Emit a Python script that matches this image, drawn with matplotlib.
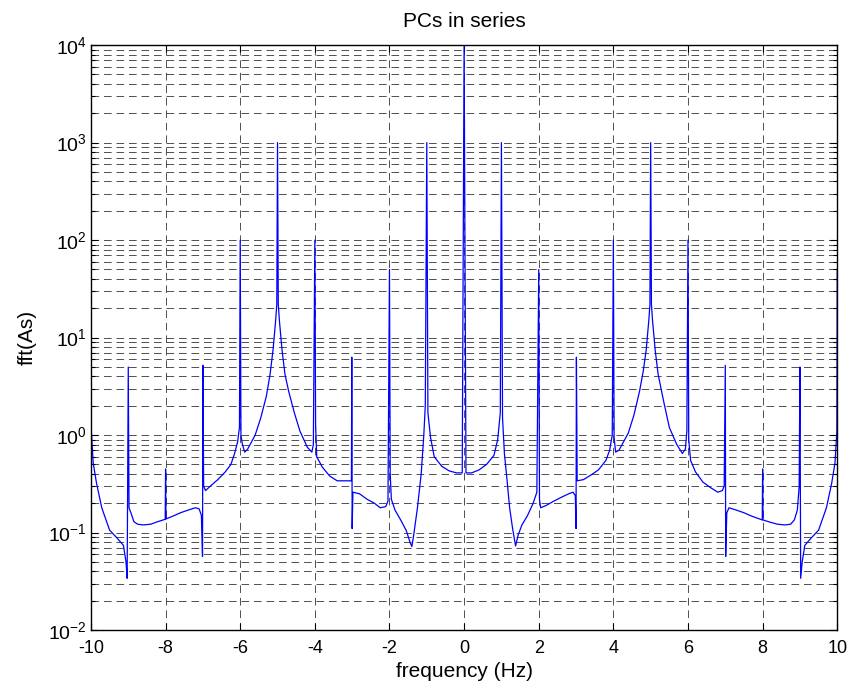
import matplotlib
matplotlib.use('Agg')
import matplotlib.pyplot as plt
from matplotlib.ticker import LogLocator, FixedLocator, NullLocator

# Espectro (frequência em Hz, amplitude)
freq = [-10.0, -9.99, -9.94, -9.85, -9.71, -9.5, -9.3, -9.13, -9.06, -9.03, -9.0,
        -8.98, -8.93, -8.85, -8.75, -8.6, -8.4, -8.2, -8.01, -8.0, -7.99,
        -7.8, -7.6, -7.4, -7.2, -7.1, -7.04, -7.01, -7.0, -6.98, -6.93,
        -6.8, -6.6, -6.4, -6.25, -6.15, -6.07, -6.02, -6.0, -5.98, -5.94,
        -5.88, -5.8, -5.6, -5.45, -5.3, -5.2, -5.12, -5.05, -5.02, -5.0,
        -4.98, -4.95, -4.88, -4.8, -4.7, -4.55, -4.4, -4.2, -4.08, -4.04,
        -4.0, -3.98, -3.95, -3.8, -3.6, -3.4, -3.1, -3.02, -3.01, -3.0,
        -2.98, -2.8, -2.6, -2.4, -2.25, -2.1, -2.04, -2.0, -1.98, -1.95,
        -1.85, -1.7, -1.55, -1.45, -1.4, -1.35, -1.25, -1.15, -1.08, -1.04,
        -1.0, -0.97, -0.9, -0.8, -0.6, -0.4, -0.2, -0.05, 0.0, 0.05,
        0.2, 0.4, 0.6, 0.8, 0.9, 0.97, 1.0, 1.03, 1.08, 1.15,
        1.22, 1.3, 1.38, 1.45, 1.55, 1.7, 1.85, 1.95, 2.0, 2.02,
        2.05, 2.2, 2.4, 2.6, 2.8, 2.92, 2.98, 3.0, 3.01, 3.03,
        3.2, 3.4, 3.6, 3.8, 3.9, 3.97, 4.0, 4.02, 4.06, 4.15,
        4.4, 4.55, 4.7, 4.8, 4.88, 4.95, 4.98, 5.0, 5.02, 5.05,
        5.12, 5.2, 5.35, 5.5, 5.7, 5.85, 5.93, 5.97, 6.0, 6.02,
        6.07, 6.2, 6.4, 6.6, 6.8, 6.92, 6.97, 7.0, 7.01, 7.04,
        7.1, 7.3, 7.5, 7.7, 7.99, 8.0, 8.01, 8.2, 8.4, 8.6,
        8.75, 8.85, 8.93, 8.98, 9.0, 9.02, 9.06, 9.13, 9.3, 9.5,
        9.71, 9.85, 9.94, 9.99, 10.0]
amp = [50, 1.1, 0.52, 0.32, 0.18, 0.106, 0.088, 0.074, 0.05, 0.034, 5.0,
       0.18, 0.16, 0.13, 0.122, 0.12, 0.122, 0.13, 0.137, 0.45, 0.138,
       0.148, 0.16, 0.17, 0.18, 0.175, 0.15, 0.057, 5.2, 0.3, 0.27,
       0.3, 0.35, 0.42, 0.5, 0.65, 0.85, 1.2, 100, 1.0, 0.8,
       0.67, 0.72, 1.0, 1.5, 2.5, 4.2, 7.5, 15, 22, 1000,
       22, 15, 7.5, 4.2, 2.8, 1.7, 1.1, 0.75, 0.67, 0.8,
       100, 1.3, 0.6, 0.47, 0.38, 0.34, 0.34, 0.34, 6.3, 0.11,
       0.26, 0.25, 0.22, 0.2, 0.18, 0.185, 0.21, 50, 0.4, 0.22,
       0.17, 0.135, 0.105, 0.08, 0.072, 0.095, 0.18, 0.4, 1.0, 2.0,
       1000, 1.7, 0.95, 0.6, 0.48, 0.43, 0.41, 0.41, 10000, 0.41,
       0.41, 0.44, 0.5, 0.62, 0.9, 1.7, 1000, 1.5, 0.65, 0.35,
       0.18, 0.11, 0.073, 0.095, 0.12, 0.15, 0.2, 0.26, 50, 0.22,
       0.18, 0.19, 0.21, 0.23, 0.25, 0.26, 0.24, 0.11, 6.3, 0.34,
       0.35, 0.39, 0.44, 0.55, 0.7, 1.0, 100, 0.95, 0.67, 0.7,
       1.05, 1.6, 2.8, 4.5, 7.5, 15, 22, 1000, 22, 15,
       7.5, 4.2, 2.2, 1.2, 0.8, 0.65, 0.72, 1.1, 100, 0.9,
       0.55, 0.42, 0.33, 0.29, 0.26, 0.27, 0.3, 5.2, 0.057, 0.16,
       0.18, 0.17, 0.16, 0.148, 0.135, 0.45, 0.135, 0.128, 0.122, 0.12,
       0.122, 0.135, 0.17, 0.3, 5.0, 0.034, 0.05, 0.074, 0.088, 0.106,
       0.18, 0.32, 0.52, 1.1, 50]

xticks = [-10, -8, -6, -4, -2, 0, 2, 4, 6, 8, 10]

plt.rcParams['font.family'] = ['Liberation Sans', 'DejaVu Sans']
plt.rcParams['lines.scale_dashes'] = False
plt.rcParams['axes.unicode_minus'] = False

fig = plt.figure(figsize=(8.5, 6.94), dpi=100)
ax = fig.add_axes([0.107, 0.092, 0.878, 0.843])

ax.plot(freq, amp, color='#0000ff', linewidth=0.9)

ax.set_yscale('log')
ax.set_xlim(-10, 10)
ax.set_ylim(1e-2, 1e4)
ax.xaxis.set_major_locator(FixedLocator(xticks))
ax.xaxis.set_minor_locator(NullLocator())
ax.yaxis.set_major_locator(LogLocator(base=10, numticks=10))
ax.yaxis.set_minor_locator(LogLocator(base=10, subs=range(2, 10), numticks=20))

# Grade tracejada estilo MATLAB
tracejado = (0, (5.5, 3.5))
ax.grid(True, which='major', axis='both', color='0.2', linestyle=tracejado, linewidth=0.6)
ax.grid(True, which='minor', axis='y', color='0.2', linestyle=tracejado, linewidth=0.6)

ax.tick_params(which='both', direction='in', top=True, right=True, width=0.8)
ax.tick_params(which='major', length=5)
ax.tick_params(axis='x', which='major', pad=7, labelsize=13)
ax.tick_params(axis='y', which='major', pad=3, labelsize=14)
ax.tick_params(which='minor', length=3)
for s in ax.spines.values():
    s.set_linewidth(1.0)

ax.set_title('PCs in series', fontsize=15, pad=13)
ax.set_xlabel('frequency (Hz)', fontsize=15, labelpad=4)
ax.set_ylabel('fft(As)', fontsize=15, labelpad=8)

fig.savefig('out.png', dpi=100)
